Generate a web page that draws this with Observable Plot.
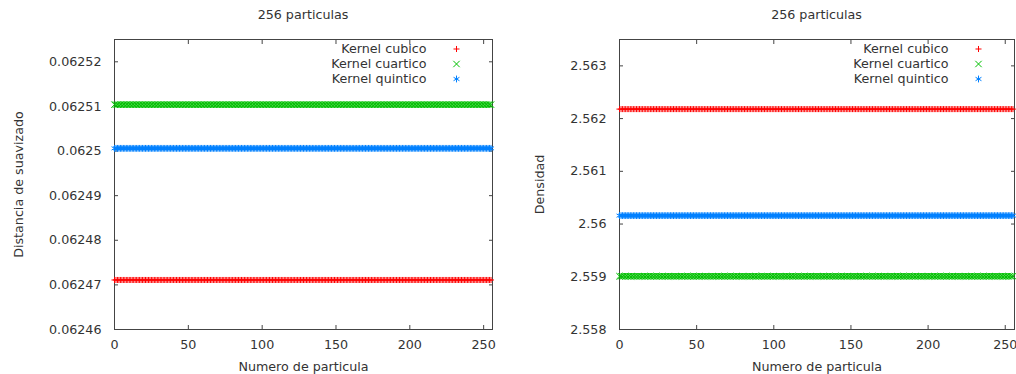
<!DOCTYPE html>
<html>
<head>
<meta charset="utf-8">
<script src="https://cdn.jsdelivr.net/npm/d3@7"></script>
<script src="https://cdn.jsdelivr.net/npm/@observablehq/plot@0.6"></script>
<style>
  body { margin: 0; background: #fff; }
  #wrap { display: flex; width: 1016px; height: 374px; font-family: "DejaVu Sans", sans-serif; color: #333; }
  .panel { width: 508px; flex: none; }
  .title { height: 30px; line-height: 30px; font-size: 12.7px; text-align: center; box-sizing: border-box; width: 508px; }
  svg { display: block; }
</style>
</head>
<body>
<div id="wrap"></div>
<script>
// ---- data ----
const particles = d3.range(0, 256); // particle index 0..255
const seriesNames = ["Kernel cubico", "Kernel cuartico", "Kernel quintico"];
const seriesColors = ["#ff0000", "#00c000", "#0080ff"];
const seriesSymbols = ["plus", "times", "asterisk"];

// left panel: smoothing distance (constant per kernel)
const hCubico = 0.0624711;
const hCuartico = 0.0625104;
const hQuintico = 0.0625006;
// right panel: density (constant per kernel)
const rhoCubico = 2.56218;
const rhoCuartico = 2.55901;
const rhoQuintico = 2.56016;

const xTicks = [0, 50, 100, 150, 200, 250];
const yTicksLeft = [0.06246, 0.06247, 0.06248, 0.06249, 0.0625, 0.06251, 0.06252];
const yTicksRight = [2.558, 2.559, 2.56, 2.561, 2.562, 2.563];

const titleText = "256 particulas";
const xLabel = "Numero de particula";
const yLabelLeft = "Distancia de suavizado";
const yLabelRight = "Densidad";

function makeRows(values) {
  const rows = [];
  seriesNames.forEach((s, k) => {
    particles.forEach(p => rows.push({series: s, x: p, y: values[k]}));
  });
  return rows;
}

const symbolR = [2.1, 3, 3.2];

function panel({values, yDomain, yTicks, yLabel, marginLeft, marginRight, yLabelDx}) {
  const rows = makeRows(values);
  const fontSize = 12.7;
  const ink = "#333";
  const marks = [
    Plot.frame({stroke: "#444"}),
    // inward ticks on all four sides
    Plot.axisX(xTicks, {anchor: "bottom", tickSize: -4, fill: "none", stroke: "#444", label: null}),
    Plot.axisX(xTicks, {anchor: "top", tickSize: -4, fill: "none", stroke: "#444", label: null}),
    Plot.axisY(yTicks, {anchor: "left", tickSize: -4, fill: "none", stroke: "#444", label: null}),
    Plot.axisY(yTicks, {anchor: "right", tickSize: -4, fill: "none", stroke: "#444", label: null}),
    // tick labels
    Plot.axisX(xTicks, {anchor: "bottom", tickSize: 0, tickPadding: 10, fill: ink, label: null, tickFormat: d => String(d)}),
    Plot.axisY(yTicks, {anchor: "left", tickSize: 0, tickPadding: 13, fill: ink, label: null, tickFormat: d => String(d)}),
    // axis titles
    Plot.text([xLabel], {frameAnchor: "bottom", dy: 37, lineAnchor: "middle", text: d => d, fill: ink, fontSize}),
    Plot.text([yLabel], {frameAnchor: "left", dx: yLabelDx, rotate: -90, textAnchor: "middle", lineAnchor: "middle", text: d => d, fill: ink, fontSize}),
  ];
  // data
  seriesNames.forEach((s, k) => {
    marks.push(Plot.dot(rows.filter(r => r.series === s), {
      x: "x", y: "y", symbol: () => seriesSymbols[k], stroke: seriesColors[k],
      r: symbolR[k], strokeWidth: 1
    }));
  });
  // legend
  seriesNames.forEach((s, k) => {
    marks.push(Plot.text([s], {frameAnchor: "top-right", dx: -66, dy: 9.5 + 15 * k, textAnchor: "end", lineAnchor: "middle", text: d => d, fill: ink, fontSize}));
    marks.push(Plot.dot([s], {frameAnchor: "top-right", dx: -36, dy: 9.5 + 15 * k, symbol: () => seriesSymbols[k], stroke: seriesColors[k], r: symbolR[k], strokeWidth: 1}));
  });
  const svg = Plot.plot({
    width: 508,
    height: 344,
    marginLeft,
    marginRight,
    marginTop: 9,
    marginBottom: 45,
    style: {fontFamily: "DejaVu Sans, sans-serif", fontSize: "12.7px", color: ink, background: "#fff"},
    x: {domain: [0, 256]},
    y: {domain: yDomain},
    symbol: {domain: seriesSymbols, range: seriesSymbols},
    marks
  });
  const div = document.createElement("div");
  div.className = "panel";
  const t = document.createElement("div");
  t.className = "title";
  t.style.paddingLeft = marginLeft + "px";
  t.style.paddingRight = marginRight + "px";
  t.textContent = titleText;
  div.appendChild(t);
  div.appendChild(svg);
  return div;
}

const wrap = document.getElementById("wrap");
wrap.appendChild(panel({
  values: [hCubico, hCuartico, hQuintico],
  yDomain: [0.06246, 0.062525], yTicks: yTicksLeft, yLabel: yLabelLeft,
  marginLeft: 114, marginRight: 16, yLabelDx: -96
}));
wrap.appendChild(panel({
  values: [rhoCubico, rhoCuartico, rhoQuintico],
  yDomain: [2.558, 2.5635], yTicks: yTicksRight, yLabel: yLabelRight,
  marginLeft: 111, marginRight: 2, yLabelDx: -80
}));
</script>
</body>
</html>
